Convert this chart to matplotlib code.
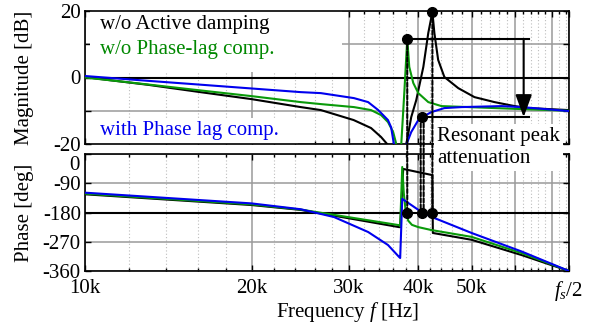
import matplotlib
matplotlib.use("Agg")
import matplotlib.pyplot as plt
from matplotlib.patches import ConnectionPatch, Rectangle
from matplotlib.ticker import FixedLocator, NullFormatter

plt.rcParams['font.family'] = 'serif'
plt.rcParams['font.serif'] = ['Liberation Serif', 'DejaVu Serif']
plt.rcParams['mathtext.fontset'] = 'custom'
plt.rcParams['mathtext.rm'] = 'Liberation Serif'
plt.rcParams['mathtext.it'] = 'Liberation Serif:italic'
plt.rcParams['axes.unicode_minus'] = False

GREEN = '#0a9a0a'
BLUE = '#0000ee'

# ---- data (frequency in kHz) ----
# magnitude [dB]
f_mag_noad = [10, 13, 16, 20, 24.55, 26.7, 30.6, 32.9, 34.3, 35.3, 35.6, 37.5, 38.08,
              38.89, 39.71, 40.9, 41.75, 42.47, 42.82, 43.5, 44.64, 47.3, 50.6, 55.0,
              59.8, 63.4, 75]
mag_noad = [0.1, -2.2, -4.3, -6.5, -8.9, -9.8, -12.8, -15.2, -17.9, -20.3, -24, -24, -20.3,
            -11.9, -6.8, 3.2, 13.4, 19.7, 13.4, 5.3, 0.15, -3.2, -5.9, -7.4,
            -8.6, -9.2, -9.8]

f_mag_nocomp = [10, 13, 16, 20, 24.55, 26.7, 30.64, 32.9, 34.3, 35.3, 36.07, 36.5, 36.8,
                37.1, 37.3, 37.8, 38.25, 38.57, 39.22, 40.05, 41.75, 44.1, 49.35, 61.58, 75]
mag_nocomp = [0.0, -2.1, -3.8, -5.6, -7.4, -8.0, -8.9, -9.8, -11.3, -13.4, -16.4, -19.7, -26,
              -26, -20.3, -4.0, 11.6, 3.2, -1.65, -4.7, -7.4, -8.6, -8.9, -9.5, -10.0]

f_mag_comp = [10, 13, 16, 20, 24.55, 26.7, 30.64, 32.5, 33.9, 35.3, 35.77, 36.2, 36.4,
              37.9, 38.08, 38.89, 40.05, 40.73, 42.29, 44.64, 47.93, 56.65, 61.58, 75]
mag_comp = [0.45, -1.0, -2.1, -3.3, -4.4, -4.7, -6.2, -7.4, -9.8, -12.8, -15.0, -20.3, -26,
            -26, -20.3, -16.4, -12.8, -11.9, -10.4, -9.2, -8.9, -8.6, -8.9, -10.1]

# phase [deg]
f_ph_noad = [10, 20, 24.55, 30.27, 36.98, 37.14, 37.61, 42.47, 42.55, 50, 61.58, 75]
ph_noad = [-124, -157, -172, -199, -225, -225, -46, -65, -243, -264, -311, -360]

f_ph_nocomp = [10, 20, 24.55, 36.98, 37.14, 37.46, 37.7, 38.0, 38.4, 39.0, 40.05, 42.29,
               50, 61.58, 75]
ph_nocomp = [-122, -155, -171, -219, -222, -40, -120, -175, -205, -218, -225, -234,
             -255, -305, -360]

f_ph_comp = [10, 20, 24.55, 28.2, 32.5, 35.3, 36.98, 37.14, 37.46, 40.55, 42.82, 50, 61.58, 75]
ph_comp = [-119, -152, -170, -194, -240, -280, -317, -320, -138, -178, -197, -243, -300, -360]

# marked points
f_peak_nocomp, mag_peak_nocomp = 38.25, 11.6
f_peak_noad, mag_peak_noad = 42.47, 19.7
f_pt_comp, mag_pt_comp = 40.73, -11.9
f_dash = [38.25, 40.45, 40.95, 42.47]
y_dash_top = [11.6, -11.9, -11.9, 19.7]
f_arrow, f_line_end = 62.1, 63.4

x_ticks = [10, 20, 30, 40, 50, 60, 70, 75]
x_ticklabels = ['10k', '20k', '30k', '40k', '50k', '', '', '$f_s$/2']
x_minor = [m for m in range(12, 75, 2) if m % 10 != 0]

fig = plt.figure(figsize=(6.03, 3.29), dpi=100)
ax1 = fig.add_axes([85 / 603, 1 - 144 / 329, 484 / 603, 133 / 329])
ax2 = fig.add_axes([85 / 603, 1 - 271 / 329, 484 / 603, 117 / 329])

for ax in (ax1, ax2):
    ax.set_xscale('log')
    ax.set_xlim(10, 75)
    ax.xaxis.set_major_locator(FixedLocator(x_ticks))
    ax.xaxis.set_minor_locator(FixedLocator(x_minor))
    ax.xaxis.set_minor_formatter(NullFormatter())
    ax.grid(True, which='major', color='#9a9a9a', lw=1.1, ls='-')
    ax.grid(True, which='minor', axis='x', color='#bdbdbd', lw=0.8, ls=(0, (1, 2)))
    ax.tick_params(which='both', direction='in', top=True, right=True,
                   labelsize=15, width=1, pad=3)
    ax.tick_params(which='major', length=4)
    ax.tick_params(which='minor', length=2.5)
    ax.tick_params(axis='x', pad=6)
    for s in ax.spines.values():
        s.set_linewidth(1.2)

ax1.set_xticklabels([])
ax2.set_xticklabels(x_ticklabels)

ax1.set_ylim(-20, 20)
ax1.set_yticks([-20, -10, 0, 10, 20])
ax1.set_yticklabels(['-20', '', '0', '', '20'])
ax2.set_ylim(-360, 0)
ax2.set_yticks([-360, -270, -180, -90, 0])
ax2.set_yticklabels(['-360', '-270', '-180', '-90', ''])
# the top "0" of the phase axis sits a little lower, clear of "-20"
ax2.text(-0.011, 0.985, '0', transform=ax2.transAxes, ha='right', va='top', fontsize=15)

ax1.axhline(0, color='black', lw=1.5, zorder=2)
ax2.axhline(-180, color='black', lw=1.5, zorder=2)

# white areas behind the legend texts
ax1.add_patch(Rectangle((0.01, 0.541), 0.52, 0.46, transform=ax1.transAxes,
                        facecolor='white', edgecolor='none', zorder=1.7))
ax1.add_patch(Rectangle((0.01, 0.0), 0.43, 0.195, transform=ax1.transAxes,
                        facecolor='white', edgecolor='none', zorder=1.7))

ax1.plot(f_mag_noad, mag_noad, color='black', lw=1.5, zorder=3)
ax1.plot(f_mag_nocomp, mag_nocomp, color=GREEN, lw=1.5, zorder=3)
ax1.plot(f_mag_comp, mag_comp, color=BLUE, lw=1.5, zorder=3)

ax2.plot(f_ph_noad, ph_noad, color='black', lw=1.5, zorder=3)
ax2.plot(f_ph_nocomp, ph_nocomp, color=GREEN, lw=1.5, zorder=3)
ax2.plot(f_ph_comp, ph_comp, color=BLUE, lw=1.5, zorder=3)

# resonant peak attenuation annotation
ax1.plot([f_peak_nocomp, f_line_end], [mag_peak_nocomp, mag_peak_nocomp], color='black', lw=1.5, zorder=4)
ax1.plot([f_pt_comp, f_line_end], [mag_pt_comp, mag_pt_comp], color='black', lw=1.5, zorder=4)
ax1.annotate('', xy=(f_arrow, mag_pt_comp), xytext=(f_arrow, mag_peak_nocomp),
             arrowprops=dict(arrowstyle='-|>,head_length=0.68,head_width=0.25',
                             color='black', lw=1.5, shrinkA=0, shrinkB=0,
                             mutation_scale=20), zorder=4)

for fd, yt in zip(f_dash, y_dash_top):
    con = ConnectionPatch(xyA=(fd, yt), coordsA=ax1.transData,
                          xyB=(fd, -180), coordsB=ax2.transData,
                          color='black', lw=1.5, ls=(0, (2, 1)))
    fig.add_artist(con)

ax1.plot([f_peak_nocomp, f_peak_noad, f_pt_comp],
         [mag_peak_nocomp, mag_peak_noad, mag_pt_comp],
         'o', color='black', ms=7, clip_on=False, zorder=6)
ax2.plot([f_peak_nocomp, f_pt_comp, f_peak_noad], [-180, -180, -180],
         'o', color='black', ms=7, clip_on=False, zorder=6)

ax1.text(0.031, 0.895, 'w/o Active damping', transform=ax1.transAxes,
         fontsize=15, color='black', va='center', zorder=5)
ax1.text(0.031, 0.707, 'w/o Phase-lag comp.', transform=ax1.transAxes,
         fontsize=15, color='#008800', va='center', zorder=5)
ax1.text(0.031, 0.105, 'with Phase lag comp.', transform=ax1.transAxes,
         fontsize=15, color=BLUE, va='center', zorder=5)

fig.text(437 / 603, 1 - 147.5 / 329, 'Resonant peak\nattenuation', fontsize=15,
         ha='left', va='center', linespacing=1.2, zorder=10,
         bbox=dict(facecolor='white', edgecolor='none', pad=2))

fig.text(25 / 603, 1 - 77.5 / 329, 'Magnitude [dB]', rotation=90,
         fontsize=15, ha='center', va='center')
fig.text(25 / 603, 1 - 212.5 / 329, 'Phase [deg]', rotation=90,
         fontsize=15, ha='center', va='center')
fig.text(348 / 603, 1 - 312 / 329, 'Frequency $f$ [Hz]', fontsize=15,
         ha='center', va='center')

fig.savefig('out.png', dpi=100)
